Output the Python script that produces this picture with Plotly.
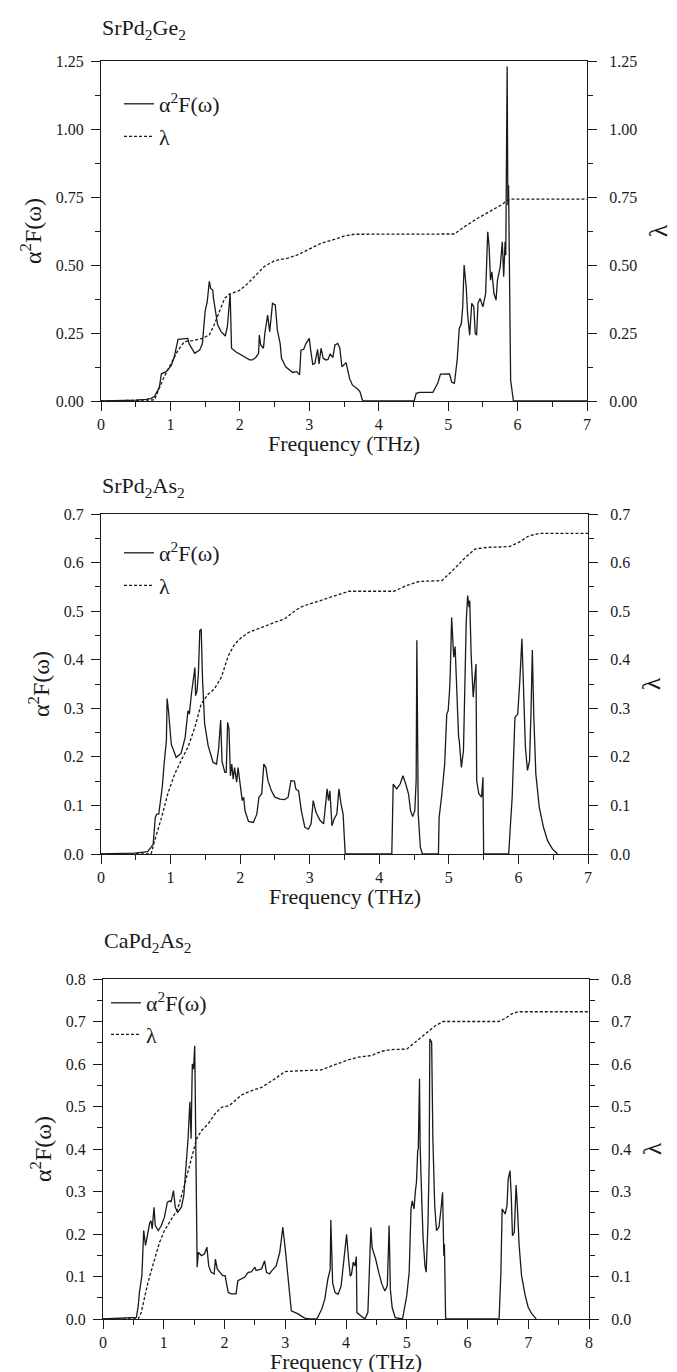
import plotly.graph_objects as go

# ---------------- data ----------------
panel_titles = ["SrPd<sub>2</sub>Ge<sub>2</sub>", "SrPd<sub>2</sub>As<sub>2</sub>", "CaPd<sub>2</sub>As<sub>2</sub>"]
x_title = "Frequency (THz)"

# SrPd2Ge2
srge_freq = [0, 0.3, 0.5, 0.65, 0.72, 0.77, 0.84, 0.87, 0.94, 1.01,
             1.05, 1.11, 1.25, 1.27, 1.35, 1.42, 1.46, 1.50, 1.53, 1.56,
             1.58, 1.61, 1.62, 1.68, 1.73, 1.79, 1.82, 1.86, 1.88, 1.94,
             2.02, 2.06, 2.14, 2.18, 2.23, 2.27, 2.28, 2.30, 2.34, 2.36,
             2.40, 2.43, 2.45, 2.47, 2.51, 2.54, 2.58, 2.60, 2.66, 2.76,
             2.82, 2.86, 2.88, 2.92, 2.95, 3.00, 3.02, 3.05, 3.08, 3.12,
             3.14, 3.17, 3.20, 3.24, 3.27, 3.30, 3.34, 3.37, 3.41, 3.44,
             3.47, 3.53, 3.58, 3.62, 3.70, 3.73, 3.77, 4.51, 4.54, 4.59,
             4.78, 4.85, 4.89, 5.02, 5.05, 5.09, 5.13, 5.16, 5.19, 5.21,
             5.23, 5.26, 5.28, 5.31, 5.34, 5.37, 5.39, 5.41, 5.43, 5.46,
             5.50, 5.54, 5.57, 5.59, 5.61, 5.63, 5.66, 5.69, 5.71, 5.75,
             5.78, 5.80, 5.82, 5.83, 5.85, 5.86, 5.87, 5.88, 5.90, 5.94,
             7.0]
srge_a2f = [0, 0.001, 0.003, 0.006, 0.01, 0.016, 0.05, 0.10, 0.108, 0.13,
            0.157, 0.227, 0.23, 0.21, 0.175, 0.187, 0.21, 0.33, 0.365, 0.44,
            0.414, 0.408, 0.377, 0.28, 0.255, 0.239, 0.273, 0.393, 0.194, 0.181,
            0.169, 0.163, 0.151, 0.151, 0.16, 0.175, 0.243, 0.206, 0.194, 0.249,
            0.316, 0.255, 0.298, 0.359, 0.353, 0.261, 0.212, 0.157, 0.126, 0.105,
            0.108, 0.096, 0.187, 0.19, 0.21, 0.23, 0.187, 0.135, 0.138, 0.19,
            0.136, 0.194, 0.157, 0.151, 0.153, 0.173, 0.16, 0.206, 0.212, 0.194,
            0.126, 0.141, 0.083, 0.059, 0.043, 0.034, 0, 0, 0.028, 0.032,
            0.032, 0.065, 0.099, 0.10, 0.07, 0.065, 0.15, 0.267, 0.285, 0.346,
            0.50, 0.42, 0.32, 0.242, 0.359, 0.346, 0.248, 0.242, 0.359, 0.377,
            0.346, 0.395, 0.622, 0.567, 0.444, 0.475, 0.395, 0.371, 0.444, 0.493,
            0.585, 0.457, 0.585, 0.536, 1.23, 0.72, 0.793, 0.54, 0.077, 0,
            0]
srge_lam_freq = [0, 0.6, 0.77, 0.84, 0.91, 1.01, 1.11, 1.20, 1.32, 1.46,
                 1.56, 1.63, 1.70, 1.78, 1.85, 1.99, 2.09, 2.21, 2.35, 2.50,
                 2.69, 2.83, 2.98, 3.17, 3.36, 3.51, 3.65, 3.84, 4.5, 5.09,
                 5.23, 5.42, 5.62, 5.76, 5.86, 5.90, 7.0]
srge_lam = [0, 0.001, 0.004, 0.047, 0.089, 0.138, 0.187, 0.218, 0.222, 0.23,
            0.243, 0.28, 0.328, 0.377, 0.393, 0.406, 0.426, 0.457, 0.494, 0.516,
            0.525, 0.537, 0.555, 0.58, 0.594, 0.607, 0.613, 0.613, 0.613, 0.614,
            0.64, 0.671, 0.70, 0.72, 0.738, 0.742, 0.742]

# SrPd2As2
sras_freq = [0, 0.48, 0.67, 0.72, 0.75, 0.78, 0.80, 0.83, 0.88, 0.91,
             0.94, 0.95, 0.97, 1.01, 1.08, 1.15, 1.21, 1.25, 1.27, 1.30,
             1.33, 1.35, 1.36, 1.38, 1.40, 1.42, 1.44, 1.46, 1.49, 1.54,
             1.61, 1.66, 1.69, 1.72, 1.74, 1.78, 1.80, 1.82, 1.84, 1.86,
             1.88, 1.90, 1.92, 1.95, 1.97, 2.00, 2.03, 2.05, 2.07, 2.12,
             2.19, 2.24, 2.27, 2.31, 2.34, 2.37, 2.40, 2.45, 2.50, 2.57,
             2.64, 2.69, 2.73, 2.78, 2.80, 2.84, 2.88, 2.93, 2.98, 3.02,
             3.05, 3.09, 3.15, 3.20, 3.25, 3.27, 3.29, 3.32, 3.35, 3.39,
             3.42, 3.45, 3.48, 3.51, 4.18, 4.20, 4.25, 4.30, 4.34, 4.38,
             4.42, 4.45, 4.48, 4.51, 4.53, 4.54, 4.56, 4.59, 4.62, 4.85,
             4.86, 4.90, 4.94, 4.97, 4.99, 5.01, 5.02, 5.04, 5.06, 5.07,
             5.09, 5.11, 5.14, 5.15, 5.18, 5.21, 5.23, 5.25, 5.27, 5.29,
             5.30, 5.32, 5.35, 5.37, 5.39, 5.40, 5.43, 5.47, 5.49, 5.50,
             5.86, 5.88, 5.91, 5.95, 5.99, 6.02, 6.05, 6.07, 6.10, 6.13,
             6.16, 6.18, 6.20, 6.22, 6.25, 6.30, 6.36, 6.42, 6.49, 6.55,
             6.56]
sras_a2f = [0, 0.002, 0.005, 0.014, 0.02, 0.075, 0.082, 0.082, 0.137, 0.19,
            0.233, 0.32, 0.295, 0.226, 0.199, 0.207, 0.24, 0.295, 0.288, 0.33,
            0.364, 0.384, 0.326, 0.336, 0.371, 0.46, 0.463, 0.357, 0.268, 0.223,
            0.189, 0.185, 0.216, 0.276, 0.19, 0.168, 0.168, 0.271, 0.257, 0.161,
            0.185, 0.154, 0.178, 0.148, 0.178, 0.144, 0.11, 0.117, 0.089, 0.067,
            0.065, 0.082, 0.117, 0.124, 0.185, 0.178, 0.151, 0.13, 0.117, 0.113,
            0.112, 0.117, 0.151, 0.15, 0.134, 0.13, 0.089, 0.055, 0.051, 0.062,
            0.11, 0.086, 0.069, 0.062, 0.134, 0.11, 0.13, 0.058, 0.072, 0.082,
            0.134, 0.103, 0.082, 0, 0, 0.144, 0.134, 0.144, 0.161, 0.144,
            0.124, 0.089, 0.077, 0.089, 0.151, 0.44, 0.082, 0.014, 0, 0,
            0.075, 0.124, 0.185, 0.288, 0.295, 0.336, 0.371, 0.487, 0.426, 0.405,
            0.427, 0.343, 0.24, 0.233, 0.178, 0.213, 0.343, 0.48, 0.532, 0.508,
            0.522, 0.412, 0.323, 0.364, 0.391, 0.151, 0.124, 0.117, 0.158, 0,
            0, 0.048, 0.117, 0.281, 0.288, 0.357, 0.443, 0.357, 0.22, 0.172,
            0.192, 0.288, 0.42, 0.288, 0.165, 0.096, 0.055, 0.027, 0.010, 0.002,
            0]
sras_lam_freq = [0, 0.72, 0.77, 0.87, 0.96, 1.06, 1.15, 1.25, 1.35, 1.44,
                 1.54, 1.63, 1.73, 1.83, 1.92, 2.02, 2.12, 2.31, 2.50, 2.64,
                 2.79, 2.88, 3.08, 3.27, 3.46, 3.56, 4.21, 4.38, 4.57, 4.90,
                 5.05, 5.24, 5.38, 5.53, 5.87, 6.01, 6.15, 6.30, 7.0]
sras_lam = [0, 0, 0.027, 0.075, 0.124, 0.165, 0.192, 0.22, 0.261, 0.309,
            0.329, 0.34, 0.364, 0.408, 0.432, 0.446, 0.456, 0.467, 0.477, 0.484,
            0.501, 0.509, 0.518, 0.528, 0.535, 0.541, 0.541, 0.552, 0.561, 0.563,
            0.583, 0.611, 0.628, 0.631, 0.633, 0.642, 0.655, 0.66, 0.66]

# CaPd2As2
caas_freq = [0, 0.47, 0.55, 0.58, 0.60, 0.64, 0.67, 0.70, 0.72, 0.74,
             0.77, 0.79, 0.81, 0.84, 0.86, 0.91, 0.96, 1.01, 1.06, 1.10,
             1.12, 1.16, 1.19, 1.23, 1.29, 1.33, 1.37, 1.40, 1.43, 1.45,
             1.47, 1.49, 1.51, 1.52, 1.55, 1.57, 1.62, 1.67, 1.71, 1.74,
             1.78, 1.83, 1.85, 1.88, 1.92, 1.97, 2.01, 2.06, 2.11, 2.19,
             2.22, 2.28, 2.33, 2.39, 2.44, 2.50, 2.52, 2.61, 2.66, 2.69,
             2.74, 2.78, 2.85, 2.91, 2.96, 3.00, 3.06, 3.10, 3.21, 3.32,
             3.40, 3.52, 3.60, 3.65, 3.70, 3.74, 3.75, 3.78, 3.82, 3.87,
             3.92, 3.96, 3.98, 4.01, 4.04, 4.07, 4.09, 4.12, 4.15, 4.17,
             4.18, 4.23, 4.31, 4.36, 4.38, 4.41, 4.43, 4.49, 4.54, 4.59,
             4.64, 4.68, 4.71, 4.73, 4.76, 4.81, 4.93, 4.95, 5.00, 5.04,
             5.07, 5.09, 5.12, 5.14, 5.16, 5.18, 5.19, 5.21, 5.22, 5.25,
             5.27, 5.30, 5.32, 5.35, 5.37, 5.38, 5.41, 5.43, 5.46, 5.49,
             5.53, 5.57, 5.59, 5.61, 5.62, 5.64, 6.52, 6.55, 6.57, 6.62,
             6.65, 6.67, 6.70, 6.72, 6.74, 6.77, 6.79, 6.80, 6.82, 6.85,
             6.89, 6.95, 7.00, 7.06, 7.11, 7.13]
caas_a2f = [0, 0.002, 0.004, 0.031, 0.063, 0.102, 0.208, 0.173, 0.188, 0.212,
            0.227, 0.231, 0.212, 0.263, 0.22, 0.208, 0.22, 0.239, 0.275, 0.278,
            0.275, 0.302, 0.263, 0.251, 0.263, 0.29, 0.361, 0.424, 0.511, 0.424,
            0.60, 0.588, 0.643, 0.486, 0.122, 0.157, 0.149, 0.153, 0.169, 0.125,
            0.11, 0.106, 0.141, 0.118, 0.11, 0.102, 0.102, 0.063, 0.059, 0.059,
            0.09, 0.094, 0.098, 0.11, 0.111, 0.122, 0.114, 0.118, 0.137, 0.11,
            0.106, 0.114, 0.125, 0.157, 0.216, 0.165, 0.071, 0.019, 0.012, 0.002,
            0, 0, 0.023, 0.046, 0.093, 0.117, 0.233, 0.085, 0.062, 0.058,
            0.078, 0.136, 0.152, 0.199, 0.144, 0.101, 0.105, 0.134, 0.125, 0.147,
            0.015, 0.009, 0, 0.015, 0.085, 0.215, 0.168, 0.14, 0.109, 0.082,
            0.066, 0.078, 0.22, 0.07, 0.027, 0.003, 0, 0.016, 0.055, 0.11,
            0.259, 0.278, 0.259, 0.298, 0.322, 0.396, 0.40, 0.565, 0.408, 0.267,
            0.188, 0.125, 0.11, 0.227, 0.376, 0.659, 0.651, 0.424, 0.267, 0.208,
            0.216, 0.267, 0.298, 0.149, 0.176, 0, 0, 0.11, 0.259, 0.247,
            0.267, 0.329, 0.349, 0.29, 0.196, 0.204, 0.267, 0.315, 0.267, 0.173,
            0.102, 0.055, 0.027, 0.012, 0.004, 0]
caas_lam_freq = [0, 0.58, 0.63, 0.74, 0.85, 0.93, 1.01, 1.12, 1.23, 1.34,
                 1.45, 1.54, 1.62, 1.73, 1.84, 1.95, 2.08, 2.17, 2.28, 2.44,
                 2.61, 2.83, 2.99, 3.21, 3.59, 3.81, 4.04, 4.20, 4.42, 4.59,
                 4.75, 5.00, 5.14, 5.30, 5.47, 5.60, 6.51, 6.62, 6.73, 6.84,
                 8.0]
caas_lam = [0, 0, 0.016, 0.086, 0.141, 0.18, 0.208, 0.235, 0.259, 0.314,
            0.376, 0.424, 0.443, 0.459, 0.482, 0.498, 0.502, 0.514, 0.527, 0.537,
            0.545, 0.565, 0.582, 0.584, 0.586, 0.598, 0.61, 0.616, 0.62, 0.63,
            0.634, 0.635, 0.651, 0.671, 0.69, 0.70, 0.70, 0.707, 0.718, 0.723,
            0.723]

x_max = [7, 7, 8]
y_max = [1.25, 0.7, 0.8]
y_dtick = [0.25, 0.1, 0.1]
y_fmt = [".2f", ".1f", ".1f"]

series = [
    (srge_freq, srge_a2f, srge_lam_freq, srge_lam),
    (sras_freq, sras_a2f, sras_lam_freq, sras_lam),
    (caas_freq, caas_a2f, caas_lam_freq, caas_lam),
]
for a, b, c, d in series:
    assert len(a) == len(b) and len(c) == len(d)

# ---------------- layout geometry (pixels) ----------------
W, H = 677, 1372
L, R, T, B = 93, 96, 52, 61
PW, PH = W - L - R, H - T - B
def px(X):
    return (X - L) / PW
def py(Y):
    return (H - B - Y) / PH

boxes = [(93, 579, 53, 393), (93, 580, 506, 846), (95, 581, 971, 1311)]
title_y = [21, 479, 934]
legend_top = [75, 524, 974]
legend_left = [111, 111, 98]
legend_gap = [1, 1, 0]

FONT = "Liberation Serif"
INK = "#1a1a1a"
fig = go.Figure()

for i, (fr, a2f, lf, lam) in enumerate(series):
    xn = "x" if i == 0 else f"x{i+1}"
    yl = "y" if i == 0 else f"y{2*i+1}"
    yr = f"y{2*i+2}"
    lg = "legend" if i == 0 else f"legend{i+1}"
    fig.add_trace(go.Scatter(x=fr, y=a2f, mode="lines", xaxis=xn, yaxis=yl,
                             line=dict(color=INK, width=1.3),
                             name="α<sup>2</sup>F(ω)", legend=lg, legendgroup=f"a{i}"))
    fig.add_trace(go.Scatter(x=lf, y=lam, mode="lines", xaxis=xn, yaxis=yr,
                             line=dict(color=INK, width=1.3, dash="3px,2px"),
                             name="λ", legend=lg, legendgroup=f"l{i}"))

    x0, x1, y0, y1 = boxes[i]
    dom_x = [px(x0), px(x1)]
    dom_y = [py(y1), py(y0)]
    tickfont = dict(family=FONT, size=16, color=INK)
    common_y = dict(range=[0, y_max[i]], dtick=y_dtick[i], tick0=0, tickformat=y_fmt[i],
                    showline=True, linecolor=INK, linewidth=1.3, ticks="outside",
                    ticklen=9, tickwidth=1.2, tickcolor=INK,
                    minor=dict(ticks="outside", ticklen=5, tickwidth=1.2, tickcolor=INK,
                               dtick=y_dtick[i] / 2),
                    showgrid=False, zeroline=False, tickfont=tickfont, fixedrange=True)
    xkey = "xaxis" if i == 0 else f"xaxis{i+1}"
    ylkey = "yaxis" if i == 0 else f"yaxis{2*i+1}"
    yrkey = f"yaxis{2*i+2}"
    fig.layout[xkey] = dict(domain=dom_x, anchor=yl, range=[0, x_max[i]], dtick=1, tick0=0,
                            showline=True, mirror=True, linecolor=INK, linewidth=1.3,
                            ticks="outside", ticklen=9, tickwidth=1.2, tickcolor=INK,
                            minor=dict(ticks="outside", ticklen=5, tickwidth=1.2,
                                       tickcolor=INK, dtick=0.5),
                            showgrid=False, zeroline=False, tickfont=tickfont,
                            ticklabelstandoff=0, fixedrange=True)
    fig.layout[ylkey] = dict(domain=dom_y, anchor=xn, side="left", ticklabelstandoff=4,
                             title=dict(text="α<sup>2</sup>F(ω)",
                                        font=dict(family=FONT, size=24, color=INK),
                                        standoff=7),
                             **common_y)
    fig.layout[yrkey] = dict(overlaying=yl, anchor=xn, side="right", ticklabelstandoff=9,
                             title=dict(text="λ", font=dict(family=FONT, size=26, color=INK),
                                        standoff=12),
                             **common_y)
    fig.layout[lg] = dict(x=px(legend_left[i]), y=py(legend_top[i]),
                          xanchor="left", yanchor="top", bgcolor="rgba(0,0,0,0)",
                          font=dict(family=FONT, size=22, color=INK),
                          itemwidth=30, tracegroupgap=legend_gap[i], traceorder="grouped")
    # panel title
    fig.add_annotation(text=panel_titles[i], xref="paper", yref="paper",
                       x=px(x0 - 1), y=py(title_y[i]), xanchor="left", yanchor="middle",
                       showarrow=False, font=dict(family=FONT, size=22, color=INK))
    # x-axis title
    fig.add_annotation(text=x_title, xref="paper", yref="paper",
                       x=(dom_x[0] + dom_x[1]) / 2, y=py(y1 + 29), xanchor="center",
                       yanchor="top", showarrow=False, borderpad=0,
                       font=dict(family=FONT, size=22, color=INK))

fig.update_layout(width=W, height=H, margin=dict(l=L, r=R, t=T, b=B, autoexpand=False),
                  paper_bgcolor="white", plot_bgcolor="white", showlegend=True)
fig.write_html("out.html")
